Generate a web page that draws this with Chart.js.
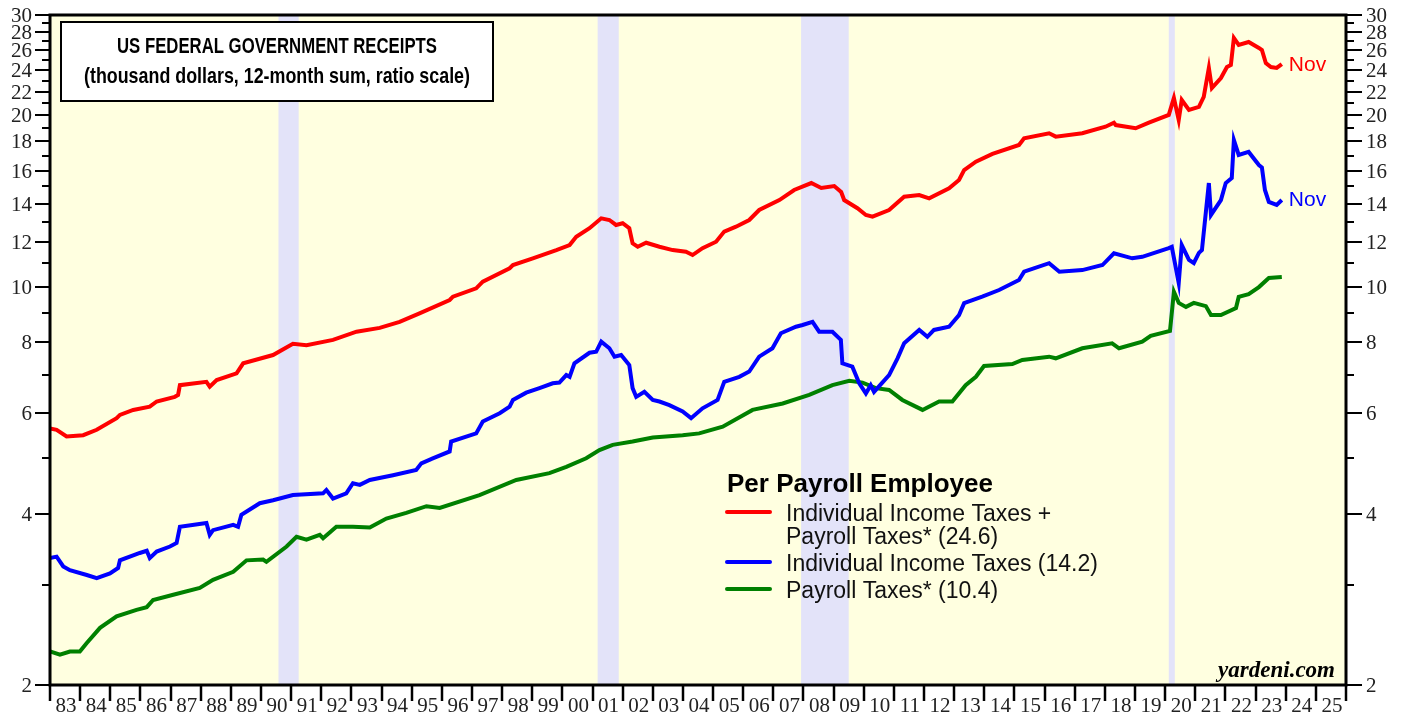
<!DOCTYPE html>
<html>
<head>
<meta charset="utf-8">
<script src="https://cdn.jsdelivr.net/npm/chart.js@4"></script>
<style>
html, body { margin: 0; padding: 0; background: #fff; }
#wrap { width: 1411px; height: 717px; }
</style>
</head>
<body>
<div id="wrap"><canvas id="chart" width="1411" height="717"></canvas></div>
<script>
// Individual income taxes + payroll taxes, per payroll employee (thousand $)
const totalYears = [1983.00, 1983.22, 1983.55, 1984.10, 1984.55, 1985.21, 1985.32, 1985.76, 1986.31, 1986.54,
  1987.14, 1987.25, 1987.31, 1988.19, 1988.30, 1988.53, 1989.19, 1989.41, 1990.40, 1991.06,
  1991.51, 1992.39, 1993.17, 1993.94, 1994.60, 1995.26, 1996.26, 1996.37, 1997.14, 1997.36,
  1998.25, 1998.36, 1999.02, 1999.80, 2000.24, 2000.46, 2000.90, 2001.29, 2001.56, 2001.78,
  2002.00, 2002.22, 2002.33, 2002.50, 2002.78, 2003.22, 2003.66, 2004.10, 2004.32, 2004.65,
  2005.10, 2005.37, 2005.76, 2006.20, 2006.53, 2007.20, 2007.69, 2008.26, 2008.59, 2009.02,
  2009.25, 2009.35, 2009.79, 2010.07, 2010.29, 2010.84, 2011.34, 2011.84, 2012.17, 2012.83,
  2013.16, 2013.33, 2013.72, 2014.27, 2015.15, 2015.32, 2016.15, 2016.37, 2017.25, 2018.02,
  2018.30, 2018.36, 2019.02, 2019.46, 2020.12, 2020.29, 2020.45, 2020.55, 2020.79, 2021.12,
  2021.28, 2021.45, 2021.55, 2021.85, 2022.05, 2022.18, 2022.28, 2022.44, 2022.77, 2023.11,
  2023.21, 2023.34, 2023.51, 2023.70, 2023.87];
const totalValues = [5.64, 5.61, 5.46, 5.49, 5.61, 5.88, 5.96, 6.08, 6.16, 6.29,
  6.41, 6.46, 6.72, 6.81, 6.68, 6.86, 7.05, 7.34, 7.59, 7.94,
  7.90, 8.07, 8.34, 8.47, 8.68, 8.98, 9.48, 9.61, 9.94, 10.21,
  10.78, 10.92, 11.22, 11.60, 11.84, 12.24, 12.67, 13.19, 13.10, 12.84,
  12.93, 12.67, 11.92, 11.76, 11.95, 11.76, 11.60, 11.52, 11.37, 11.69,
  12.00, 12.50, 12.75, 13.10, 13.64, 14.20, 14.79, 15.21, 14.91, 15.03,
  14.67, 14.20, 13.74, 13.37, 13.28, 13.64, 14.39, 14.49, 14.30, 14.89,
  15.40, 16.03, 16.58, 17.11, 17.74, 18.23, 18.60, 18.35, 18.60, 19.10,
  19.41, 19.23, 18.98, 19.41, 20.03, 21.45, 19.62, 21.28, 20.44, 20.69,
  21.54, 24.22, 22.33, 23.25, 24.31, 24.51, 27.34, 26.58, 26.90, 26.26,
  26.04, 24.71, 24.31, 24.22, 24.60];

// Individual income taxes per payroll employee
const incomeYears = [1983.00, 1983.22, 1983.44, 1983.66, 1984.22, 1984.55, 1984.99, 1985.26, 1985.32, 1985.98,
  1986.21, 1986.31, 1986.54, 1986.98, 1987.20, 1987.31, 1988.19, 1988.30, 1988.41, 1989.08,
  1989.24, 1989.35, 1989.96, 1990.40, 1991.06, 1992.06, 1992.17, 1992.39, 1992.83, 1993.05,
  1993.28, 1993.61, 1994.38, 1995.15, 1995.32, 1995.70, 1996.26, 1996.31, 1997.14, 1997.36,
  1997.92, 1998.25, 1998.36, 1998.80, 1999.24, 1999.68, 1999.90, 2000.13, 2000.24, 2000.40,
  2000.90, 2001.12, 2001.29, 2001.56, 2001.73, 2001.95, 2002.22, 2002.33, 2002.45, 2002.72,
  2003.00, 2003.22, 2003.55, 2003.99, 2004.27, 2004.65, 2005.15, 2005.37, 2005.87, 2006.20,
  2006.53, 2006.97, 2007.25, 2007.75, 2007.97, 2008.30, 2008.52, 2008.96, 2009.24, 2009.29,
  2009.62, 2009.85, 2010.07, 2010.23, 2010.34, 2010.84, 2011.12, 2011.34, 2011.84, 2012.11,
  2012.33, 2012.83, 2013.16, 2013.33, 2013.93, 2014.49, 2015.15, 2015.32, 2016.15, 2016.49,
  2017.25, 2017.92, 2018.30, 2018.91, 2019.24, 2020.12, 2020.22, 2020.45, 2020.55, 2020.79,
  2020.95, 2021.12, 2021.22, 2021.45, 2021.52, 2021.85, 2022.01, 2022.21, 2022.28, 2022.44,
  2022.77, 2023.11, 2023.21, 2023.31, 2023.44, 2023.70, 2023.87];
const incomeValues = [3.34, 3.36, 3.23, 3.18, 3.12, 3.08, 3.14, 3.21, 3.31, 3.41,
  3.44, 3.34, 3.43, 3.50, 3.55, 3.79, 3.85, 3.67, 3.74, 3.82,
  3.79, 3.98, 4.17, 4.22, 4.31, 4.34, 4.40, 4.25, 4.34, 4.52,
  4.49, 4.58, 4.67, 4.77, 4.90, 5.00, 5.14, 5.35, 5.53, 5.80,
  6.00, 6.16, 6.33, 6.52, 6.64, 6.77, 6.79, 7.00, 6.95, 7.34,
  7.66, 7.69, 8.01, 7.80, 7.54, 7.59, 7.29, 6.64, 6.41, 6.54,
  6.33, 6.29, 6.20, 6.04, 5.88, 6.12, 6.33, 6.81, 6.95, 7.10,
  7.54, 7.80, 8.29, 8.51, 8.57, 8.68, 8.34, 8.34, 8.07, 7.34,
  7.24, 6.77, 6.50, 6.72, 6.54, 7.00, 7.49, 7.96, 8.40, 8.17,
  8.40, 8.51, 8.92, 9.36, 9.61, 9.87, 10.28, 10.63, 11.00, 10.63,
  10.70, 10.92, 11.45, 11.22, 11.29, 11.69, 11.75, 10.15, 11.84, 11.15,
  11.01, 11.47, 11.60, 15.21, 13.37, 14.20, 15.21, 15.52, 18.10, 17.04,
  17.25, 16.36, 16.20, 14.79, 14.09, 13.92, 14.20];

// Payroll taxes per payroll employee
const payrollYears = [1983.00, 1983.33, 1983.66, 1983.99, 1984.22, 1984.66, 1985.21, 1985.87, 1986.21, 1986.42,
  1987.09, 1987.97, 1988.41, 1989.08, 1989.52, 1990.07, 1990.18, 1990.85, 1991.18, 1991.51,
  1991.95, 1992.06, 1992.50, 1993.05, 1993.61, 1994.16, 1994.82, 1995.49, 1995.93, 1997.25,
  1998.47, 1999.57, 2000.13, 2000.79, 2001.23, 2001.67, 2002.33, 2003.00, 2003.99, 2004.54,
  2005.32, 2006.31, 2007.31, 2008.19, 2008.96, 2009.52, 2009.96, 2010.40, 2010.84, 2011.28,
  2011.95, 2012.50, 2012.94, 2013.38, 2013.72, 2013.99, 2014.93, 2015.26, 2016.15, 2016.37,
  2017.25, 2018.24, 2018.47, 2019.24, 2019.52, 2020.16, 2020.29, 2020.45, 2020.69, 2020.95,
  2021.35, 2021.52, 2021.85, 2022.35, 2022.44, 2022.77, 2023.11, 2023.44, 2023.87];
const payrollValues = [2.29, 2.26, 2.29, 2.29, 2.37, 2.52, 2.64, 2.71, 2.74, 2.82,
  2.88, 2.96, 3.06, 3.16, 3.31, 3.32, 3.29, 3.50, 3.64, 3.60,
  3.67, 3.62, 3.79, 3.79, 3.78, 3.92, 4.01, 4.12, 4.09, 4.31,
  4.58, 4.71, 4.83, 5.00, 5.17, 5.28, 5.35, 5.44, 5.49, 5.53,
  5.68, 6.08, 6.24, 6.46, 6.72, 6.84, 6.79, 6.64, 6.59, 6.33,
  6.08, 6.29, 6.29, 6.72, 6.95, 7.26, 7.32, 7.44, 7.54, 7.49,
  7.80, 7.96, 7.80, 8.01, 8.20, 8.37, 9.80, 9.37, 9.22, 9.37,
  9.25, 8.92, 8.92, 9.18, 9.60, 9.71, 9.99, 10.36, 10.40];

const yTickLabels = [2, 4, 6, 8, 10, 12, 14, 16, 18, 20, 22, 24, 26, 28, 30];
const yMinorTicks = [3, 5, 7, 9, 11, 13, 15, 17, 19, 21, 23, 25, 27, 29];
const firstYear = 1983;
const lastYear = 2025;
const recessions = [[1990.58, 1991.25], [2001.17, 2001.87], [2007.92, 2009.5], [2020.12, 2020.32]];

const legendItems = [
  { color: '#ff0000', lines: ['Individual Income Taxes +', 'Payroll Taxes* (24.6)'] },
  { color: '#0000ff', lines: ['Individual Income Taxes (14.2)'] },
  { color: '#008000', lines: ['Payroll Taxes* (10.4)'] }
];

const SERIF = '"Liberation Serif", "Times New Roman", serif';
const SANS = '"Liberation Sans", Arial, sans-serif';

function toPoints(xs, ys) {
  return xs.map((x, i) => ({ x: x, y: ys[i] }));
}

// draw text centred at cx, squeezed sideways to a given width
function fitText(ctx, text, cx, y, width) {
  const w = ctx.measureText(text).width;
  const k = Math.min(1, width / w);
  ctx.save();
  ctx.translate(cx, y);
  ctx.scale(k, 1);
  ctx.textAlign = 'center';
  ctx.fillText(text, 0, 0);
  ctx.restore();
}

// Background, recession bands, frame, ticks and annotations
const framePlugin = {
  id: 'frame',
  beforeDraw(chart) {
    const { ctx, chartArea: a } = chart;
    const xs = chart.scales.x;
    ctx.save();
    ctx.fillStyle = '#ffffff';
    ctx.fillRect(0, 0, chart.width, chart.height);
    ctx.fillStyle = '#ffffe0';
    ctx.fillRect(a.left, a.top, a.right - a.left, a.bottom - a.top);
    ctx.fillStyle = '#e3e3f9';
    recessions.forEach(([s, e]) => {
      const x1 = xs.getPixelForValue(s);
      const x2 = xs.getPixelForValue(e);
      ctx.fillRect(x1, a.top, x2 - x1, a.bottom - a.top);
    });
    ctx.restore();
  },
  afterDatasetsDraw(chart) {
    const { ctx, chartArea: a } = chart;
    const xs = chart.scales.x;
    const ys = chart.scales.y;
    ctx.save();

    // y axis ticks + labels, both sides
    ctx.strokeStyle = '#000';
    ctx.lineWidth = 2;
    ctx.fillStyle = '#222';
    ctx.font = '21px ' + SERIF;
    ctx.textBaseline = 'middle';
    yTickLabels.forEach(v => {
      const y = Math.round(ys.getPixelForValue(v));
      ctx.beginPath();
      ctx.moveTo(a.left - 15, y); ctx.lineTo(a.left, y);
      ctx.moveTo(a.right, y); ctx.lineTo(a.right + 16, y);
      ctx.stroke();
      ctx.textAlign = 'right';
      ctx.fillText(String(v), a.left - 18, y + 1);
      ctx.textAlign = 'left';
      ctx.fillText(String(v), a.right + 20, y + 1);
    });
    yMinorTicks.forEach(v => {
      const y = Math.round(ys.getPixelForValue(v));
      ctx.beginPath();
      ctx.moveTo(a.left - 8, y); ctx.lineTo(a.left, y);
      ctx.moveTo(a.right, y); ctx.lineTo(a.right + 8, y);
      ctx.stroke();
    });

    // x axis: year boundaries as ticks, labels centred in each year
    ctx.lineWidth = 2.5;
    ctx.textAlign = 'center';
    ctx.textBaseline = 'middle';
    for (let yr = firstYear; yr <= lastYear + 1; yr++) {
      const x = Math.round(xs.getPixelForValue(yr));
      ctx.beginPath();
      ctx.moveTo(x, a.bottom); ctx.lineTo(x, a.bottom + 16);
      ctx.stroke();
      if (yr <= lastYear) {
        const label = String(yr % 100).padStart(2, '0');
        ctx.fillText(label, xs.getPixelForValue(yr + 0.5) + 1, a.bottom + 21);
      }
    }

    // plot frame
    ctx.lineWidth = 3;
    ctx.strokeRect(a.left, a.top, a.right - a.left, a.bottom - a.top);

    // title box
    ctx.fillStyle = '#fff';
    ctx.fillRect(61, 22, 432, 79);
    ctx.lineWidth = 2;
    ctx.strokeRect(61, 22, 432, 79);
    ctx.fillStyle = '#000';
    ctx.font = 'bold 22px ' + SANS;
    fitText(ctx, 'US FEDERAL GOVERNMENT RECEIPTS', 277, 47, 320);
    fitText(ctx, '(thousand dollars, 12-month sum, ratio scale)', 277, 77, 386);

    // legend
    ctx.textAlign = 'left';
    ctx.fillStyle = '#000';
    ctx.font = 'bold 26px ' + SANS;
    ctx.fillText('Per Payroll Employee', 727, 485);
    ctx.font = '23px ' + SANS;
    let ty = 515;
    legendItems.forEach(item => {
      ctx.strokeStyle = item.color;
      ctx.lineWidth = 4;
      ctx.lineCap = 'round';
      ctx.beginPath();
      ctx.moveTo(727, ty - 3); ctx.lineTo(770, ty - 3);
      ctx.stroke();
      item.lines.forEach(t => {
        ctx.fillStyle = '#111';
        ctx.fillText(t, 786, ty);
        ty += 23;
      });
      ty += 4;
    });

    // last-value labels
    ctx.font = '21px ' + SANS;
    const lastX = xs.getPixelForValue(totalYears[totalYears.length - 1]) + 7;
    ctx.fillStyle = '#ff0000';
    ctx.fillText('Nov', lastX, 65);
    ctx.fillStyle = '#0000ff';
    ctx.fillText('Nov', lastX, 200);

    // source
    ctx.fillStyle = '#000';
    ctx.font = 'italic bold 23px ' + SERIF;
    ctx.textAlign = 'right';
    ctx.fillText('yardeni.com', a.right - 11, 671);

    ctx.restore();
  }
};

const lineStyle = { borderWidth: 4, pointRadius: 0, tension: 0, fill: false };

new Chart(document.getElementById('chart'), {
  type: 'line',
  data: {
    datasets: [
      Object.assign({ label: 'Individual Income Taxes + Payroll Taxes*', data: toPoints(totalYears, totalValues), borderColor: '#ff0000' }, lineStyle),
      Object.assign({ label: 'Individual Income Taxes', data: toPoints(incomeYears, incomeValues), borderColor: '#0000ff' }, lineStyle),
      Object.assign({ label: 'Payroll Taxes*', data: toPoints(payrollYears, payrollValues), borderColor: '#008000' }, lineStyle)
    ]
  },
  options: {
    responsive: false,
    animation: false,
    devicePixelRatio: 1,
    layout: { padding: { left: 50, right: 65, top: 15, bottom: 32 } },
    plugins: { legend: { display: false }, tooltip: { enabled: false } },
    scales: {
      x: { type: 'linear', min: 1983, max: 2026, display: false },
      y: { type: 'logarithmic', min: 2, max: 30, display: false }
    }
  },
  plugins: [framePlugin]
});
</script>
</body>
</html>
